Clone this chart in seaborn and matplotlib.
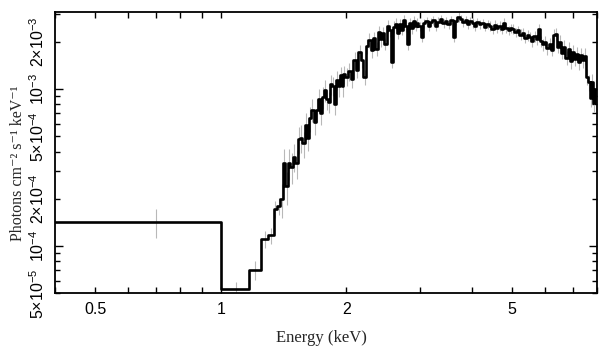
import numpy as np
import pandas as pd
import matplotlib
matplotlib.use("Agg")
import matplotlib.pyplot as plt
import matplotlib.ticker as mticker
import seaborn as sns

# bin edges in keV (last value closes the last bin)
energy_edges = [
    0.40, 1.00, 1.17, 1.25, 1.30, 1.34, 1.365,
    1.39, 1.41, 1.43, 1.45, 1.47, 1.49, 1.51, 1.53, 1.55, 1.57, 1.59, 1.61, 1.63, 1.65, 1.67,
    1.69, 1.71, 1.73, 1.75, 1.77, 1.79, 1.81, 1.83, 1.85, 1.87, 1.89, 1.91, 1.93, 1.95, 1.97, 1.99,
    2.02, 2.05, 2.08, 2.11, 2.14, 2.17, 2.20, 2.23, 2.26, 2.29, 2.32, 2.35, 2.38, 2.41, 2.44, 2.47,
    2.50, 2.53, 2.56, 2.59, 2.62, 2.65, 2.68, 2.71, 2.74, 2.77, 2.80, 2.83, 2.86, 2.89, 2.92, 2.95, 2.98,
    3.02, 3.06, 3.10, 3.14, 3.18, 3.22, 3.26, 3.30, 3.35, 3.40, 3.45, 3.50, 3.55, 3.60, 3.65, 3.70,
    3.75, 3.80, 3.85, 3.90, 3.95, 4.00, 4.05, 4.10, 4.16, 4.22, 4.28, 4.34, 4.40, 4.46, 4.52, 4.58,
    4.64, 4.70, 4.76, 4.82, 4.88, 4.94,
    5.00, 5.07, 5.14, 5.21, 5.28, 5.35, 5.42, 5.49, 5.56, 5.63, 5.70, 5.77, 5.84, 5.91, 5.98, 6.05,
    6.12, 6.19, 6.26, 6.33, 6.40, 6.48, 6.56, 6.64, 6.72, 6.80, 6.88, 6.96, 7.04, 7.12, 7.20, 7.28,
    7.36, 7.44, 7.52, 7.60, 7.68, 7.76, 7.84, 7.92,
    8.00,
]

# flux per bin, in units of 1e-3 photons cm^-2 s^-1 keV^-1
flux = [
    0.143, 0.053, 0.071, 0.111, 0.117, 0.172, 0.180,
    0.20, 0.34, 0.24, 0.34, 0.32, 0.37, 0.34, 0.48, 0.49, 0.45,
    0.59, 0.49, 0.65, 0.74, 0.62, 0.74, 0.86, 0.70, 0.89, 0.99,
    0.86, 0.83, 1.07, 1.05, 0.80, 1.14, 1.04, 1.23, 1.04, 1.24, 1.20,
    1.30, 1.16, 1.53, 1.33, 1.71, 1.54, 1.19, 1.87, 2.05, 1.78,
    2.10, 1.81, 2.29, 2.07, 2.27, 1.94, 2.51, 2.36, 1.49, 2.48,
    2.61, 2.28, 2.60, 2.39, 2.74, 2.50, 1.92, 2.62, 2.45, 2.69,
    2.52, 2.63, 2.50,
    2.15, 2.62, 2.70, 2.52, 2.66, 2.74, 2.50, 2.68, 2.78, 2.62,
    2.70, 2.58, 2.76, 2.15, 2.70, 2.88, 2.80, 2.66, 2.74, 2.60,
    2.70, 2.64, 2.50, 2.66, 2.58, 2.62, 2.48, 2.58, 2.52, 2.40,
    2.55, 2.46, 2.52, 2.40, 2.64, 2.45, 2.36, 2.44,
    2.42, 2.30, 2.36, 2.22, 2.28, 2.12, 2.20, 2.15, 2.02, 2.16,
    2.08, 2.40, 2.02, 1.92, 2.00, 1.82, 1.94, 1.78, 2.20, 2.24,
    1.86, 2.00, 1.70, 1.86, 1.58, 1.80, 1.50, 1.72, 1.55, 1.66,
    1.48, 1.64, 1.52, 1.62, 1.20, 1.10, 0.88, 1.10, 0.82, 1.00,
]

# 1-sigma errors, percent of flux
rel_err = [
    21, 12, 14, 12, 12, 12, 12,
    24, 22, 24, 22, 22, 20, 21, 20, 20, 19,
    19, 18, 18, 17, 18, 17, 17, 16, 16, 16,
    15, 15, 15, 14, 15, 14, 14, 13, 14, 13, 13,
    13, 13, 12, 12, 12, 12, 11, 11, 11, 11,
    10, 10, 10, 10, 10, 9, 9, 9, 9, 9,
    9, 9, 8, 8, 8, 8, 8, 8, 8, 8,
    7, 7, 7,
    7, 7, 6, 7, 6, 7, 6, 7, 6, 7,
    6, 7, 6, 7, 6, 7, 6, 7, 6, 7,
    6, 7, 6, 7, 6, 7, 6, 7, 7, 7,
    7, 7, 7, 7, 7, 7, 7, 7,
    7, 7, 7, 8, 7, 8, 8, 8, 8, 8,
    8, 8, 8, 9, 8, 9, 9, 9, 9, 9,
    9, 10, 9, 10, 10, 10, 10, 11, 10, 11,
    11, 11, 11, 12, 12, 12, 13, 13, 13, 14,
]

x_major = [0.5, 1, 2, 5]
x_major_labels = ["0.5", "1", "2", "5"]
x_minor = [0.4, 0.6, 0.7, 0.8, 0.9, 3, 4, 6, 7, 8]
y_major = [1e-4, 1e-3]
y_major_labels = [r"$10^{-4}$", r"$10^{-3}$"]
y_minor = [5e-5, 6e-5, 7e-5, 8e-5, 9e-5, 2e-4, 3e-4, 4e-4, 5e-4, 6e-4, 7e-4, 8e-4, 9e-4, 2e-3, 3e-3]
y_minor_labels = [r"$5{\times}10^{-5}$", "", "", "", "", r"$2{\times}10^{-4}$", "", "",
                  r"$5{\times}10^{-4}$", "", "", "", "", r"$2{\times}10^{-3}$", ""]

sns.set_theme(style="ticks")
plt.rcParams["font.family"] = ["Liberation Sans", "DejaVu Sans"]
plt.rcParams["mathtext.default"] = "regular"
plt.rcParams["axes.edgecolor"] = "black"
plt.rcParams["axes.linewidth"] = 1.3

edges = np.array(energy_edges)
f = np.array(flux) * 1e-3
err = f * np.array(rel_err) / 100.0
centres = (edges[:-1] + edges[1:]) / 2

df = pd.DataFrame({"energy": edges, "flux": np.append(f, f[-1])})

fig = plt.figure(figsize=(6.09, 3.57), dpi=100)
ax = fig.add_axes([0.0903, 0.178, 0.8900, 0.789])

ax.vlines(centres, f - err, f + err, color="#b8b8b8", lw=0.8, zorder=1)
sns.lineplot(data=df, x="energy", y="flux", drawstyle="steps-post", color="black",
             lw=1.9, estimator=None, sort=False, ax=ax, zorder=2)

ax.set_xscale("log")
ax.set_yscale("log")
ax.set_xlim(0.4, 8.0)
ax.set_ylim(5e-5, 3.1e-3)

ax.xaxis.set_major_locator(mticker.FixedLocator(x_major))
ax.xaxis.set_major_formatter(mticker.FixedFormatter(x_major_labels))
ax.xaxis.set_minor_locator(mticker.FixedLocator(x_minor))
ax.xaxis.set_minor_formatter(mticker.NullFormatter())
ax.yaxis.set_major_locator(mticker.FixedLocator(y_major))
ax.yaxis.set_major_formatter(mticker.FixedFormatter(y_major_labels))
ax.yaxis.set_minor_locator(mticker.FixedLocator(y_minor))
ax.yaxis.set_minor_formatter(mticker.FixedFormatter(y_minor_labels))

ax.tick_params(axis="both", which="both", direction="in", top=True, right=True,
               width=1.0, color="black", labelcolor="black", labelsize=11.5)
ax.tick_params(axis="x", which="both", length=4, pad=6)
ax.tick_params(axis="y", which="major", length=6, pad=6, labelrotation=90)
ax.tick_params(axis="y", which="minor", length=3.5, pad=6, labelrotation=90)
for lab in ax.get_yticklabels(which="both"):
    lab.set_va("center")

ax.set_xlabel("Energy (keV)", family=["Liberation Serif", "DejaVu Serif"], fontsize=12)
ax.set_ylabel("Photons cm\u207b\u00b2 s\u207b\u00b9 keV\u207b\u00b9",
              family=["Liberation Serif", "DejaVu Serif"], fontsize=11.5)
ax.xaxis.set_label_coords(0.492, -0.129)
ax.yaxis.set_label_coords(-0.053, 0.463)

fig.savefig("out.png", dpi=100)
